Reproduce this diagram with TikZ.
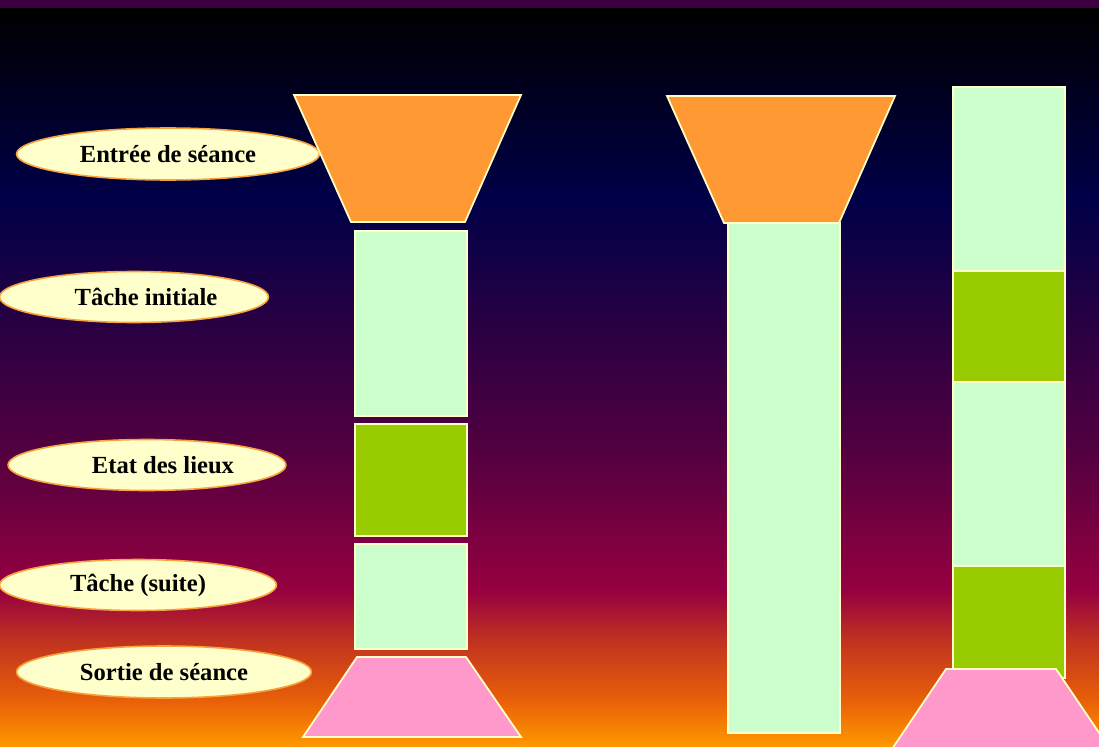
\documentclass[tikz,border=0pt]{standalone}
\usepackage{fontspec}
\setmainfont{Liberation Serif}
\usepackage{xcolor}
\usetikzlibrary{shapes.geometric}
\definecolor{funnelC}{HTML}{FF9933}
\definecolor{paleC}{HTML}{CCFFCC}
\definecolor{checkC}{HTML}{99CC00}
\definecolor{exitC}{HTML}{FF99CC}
\definecolor{creamC}{HTML}{FFFFCC}
\definecolor{rimC}{HTML}{F7A23A}
\tikzset{
  funnel/.style = {fill=funnelC, draw=creamC, line width=1pt, line join=miter},
  exitf/.style  = {fill=exitC,   draw=creamC, line width=1pt},
  stage/.style  = {fill=paleC,   draw=creamC, line width=0.8pt},
  check/.style  = {fill=checkC,  draw=creamC, line width=0.8pt},
  bubble/.style = {ellipse, fill=creamC, draw=rimC, line width=0.9pt, inner sep=0pt,
                   font=\fontsize{14}{16}\selectfont\bfseries, text=black},
  band/.style   = {draw=none},
}
\begin{document}
\begin{tikzpicture}[x=0.02cm, y=-0.02cm]
    \useasboundingbox (0,0) rectangle (1099,747);
    \begin{scope}
    \clip (0,0) rectangle (1099,747);

    %% Background gradient
    \fill[fill={rgb,255:red,60;green,0;blue,64}] (0,0) rectangle (1099,8);
    \shade[band, top color=black, bottom color={rgb,255:red,0;green,0;blue,72}] (0,8) rectangle (1099,200.5);
    \shade[band, top color={rgb,255:red,0;green,0;blue,72}, bottom color={rgb,255:red,42;green,0;blue,66}] (0,200) rectangle (1099,330.5);
    \shade[band, top color={rgb,255:red,42;green,0;blue,66}, bottom color={rgb,255:red,82;green,0;blue,64}] (0,330) rectangle (1099,450.5);
    \shade[band, top color={rgb,255:red,82;green,0;blue,64}, bottom color={rgb,255:red,150;green,0;blue,64}] (0,450) rectangle (1099,590.5);
    \shade[band, top color={rgb,255:red,150;green,0;blue,64}, bottom color={rgb,255:red,192;green,50;blue,32}] (0,590) rectangle (1099,640.5);
    \shade[band, top color={rgb,255:red,192;green,50;blue,32}, bottom color={rgb,255:red,232;green,96;blue,8}] (0,640) rectangle (1099,700.5);
    \shade[band, top color={rgb,255:red,232;green,96;blue,8}, bottom color={rgb,255:red,255;green,153;blue,0}] (0,700) rectangle (1099,747);

    %% Labels
    \node[bubble, minimum width=6.06cm, minimum height=1.04cm] (entry) at (168,154) {Entrée de séance};
    \node[bubble, minimum width=5.38cm, minimum height=1.02cm] (task1) at (134,297) {\hspace*{0.48cm}Tâche initiale};
    \node[bubble, minimum width=5.56cm, minimum height=1.02cm] (state) at (147,465) {\hspace*{0.64cm}Etat des lieux};
    \node[bubble, minimum width=5.54cm, minimum height=1.02cm] (task2) at (138,585) {Tâche (suite)};
    \node[bubble, minimum width=5.90cm, minimum height=1.04cm] (exit)  at (164,672) {Sortie de séance};

    %% Left column
    \draw[funnel] (294,95) -- (521,95) -- (465,222) -- (351,222) -- cycle;
    \draw[stage] (355,231) rectangle (467,416);
    \draw[check] (355,424) rectangle (467,536);
    \draw[stage] (355,544) rectangle (467,649);
    \draw[exitf] (357,657) -- (466,657) -- (521,737) -- (303,737) -- cycle;

    %% Middle column
    \draw[stage] (728,223) rectangle (840,733);
    \draw[funnel] (667,96) -- (895,96) -- (839,223) -- (724,223) -- cycle;

    %% Right column
    \draw[stage] (953,87) rectangle (1065,271);
    \draw[check] (953,271) rectangle (1065,382);
    \draw[stage] (953,382) rectangle (1065,566);
    \draw[check] (953,566) rectangle (1065,678);
    \draw[exitf] (946,669) -- (1056,669) -- (1112,752) -- (890,752) -- cycle;
    \end{scope}
\end{tikzpicture}
\end{document}
